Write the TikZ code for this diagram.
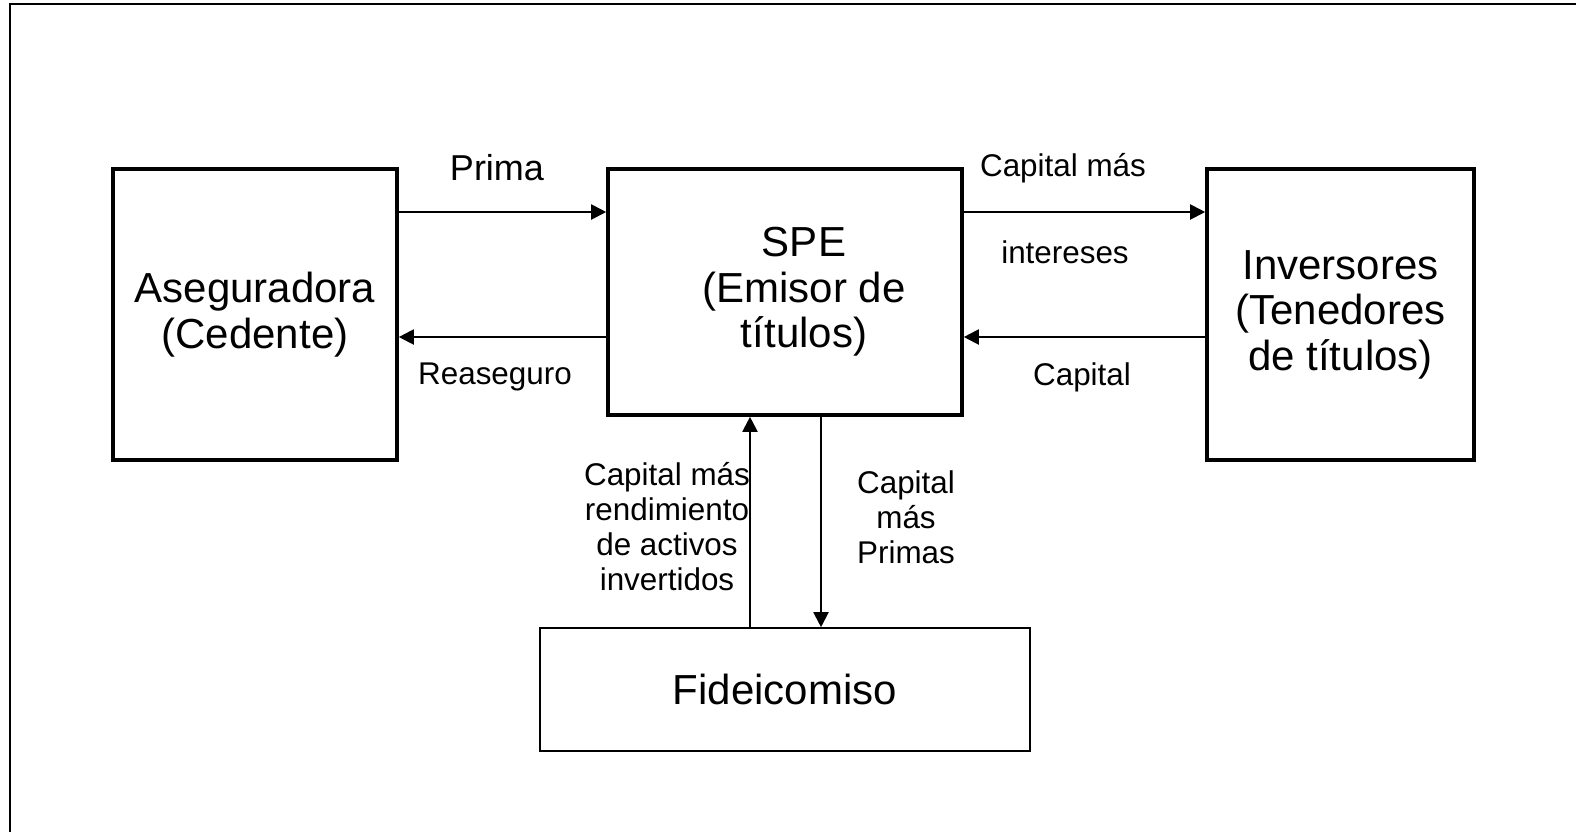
\documentclass[tikz,border=0pt]{standalone}
\usepackage{fontspec}
\setmainfont{Liberation Sans}
\usepackage{tikz}
\usetikzlibrary{arrows.meta}
\usetikzlibrary{positioning}
\usetikzlibrary{calc}

\begin{document}
\begin{tikzpicture}[x=0.5pt,y=-0.5pt,
  party/.style={draw,line width=1.8pt,inner sep=0pt,align=center,font=\fontsize{21}{22.7}\selectfont},
  trust/.style={draw,line width=0.8pt,inner sep=0pt,align=center,font=\fontsize{21}{22.7}\selectfont},
  flow/.style={line width=1pt,-{Triangle[length=7.5pt,width=7.5pt]}},
  lbl/.style={align=center,inner sep=0pt,font=\fontsize{15.7}{17.5}\selectfont}]
\useasboundingbox (0,0) rectangle (1576,832);
% frame
\draw[line width=1.3pt] (10,832) -- (10,4) -- (1576,4);
% boxes
\node[party,minimum width=142pt,minimum height=145.5pt] (aseg) at (255,314.5) {Aseguradora\\(Cedente)};
\node[party,minimum width=177pt,minimum height=123pt,
  label={[align=center,font=\fontsize{21}{22.7}\selectfont,xshift=9.5pt]center:SPE\\(Emisor de\\títulos)}] (spe) at (785,292) {};
\node[party,minimum width=133.5pt,minimum height=145.5pt] (inv) at (1340.5,314.5) {Inversores\\(Tenedores\\de títulos)};
\node[trust,minimum width=245pt,minimum height=61.5pt] (fid) at (785,689.5) {Fideicomiso};
% rows and columns of the flows
\coordinate (upper) at (0,212);
\coordinate (lower) at (0,337);
\coordinate (upcol) at (750,0);
\coordinate (downcol) at (821,0);
\draw[flow] (aseg.east |- upper) -- (spe.west |- upper);
\draw[flow] (spe.west |- lower) -- (aseg.east |- lower);
\draw[flow] (spe.east |- upper) -- (inv.west |- upper);
\draw[flow] (inv.west |- lower) -- (spe.east |- lower);
\draw[flow] (fid.north -| upcol) -- (spe.south -| upcol);
\draw[flow] (spe.south -| downcol) -- (fid.north -| downcol);
% labels
\node[lbl,font=\fontsize{18}{20}\selectfont] (prima) at (497,168) {Prima};
\node[lbl] (reas) at (495,377) {Reaseguro};
\node[lbl] (capmas) at (1063,168) {Capital más};
\node[lbl] (inter) at (1065,252) {intereses};
\node[lbl] (cap) at (1082,377) {Capital};
\node[lbl] (rend) at (667,527) {Capital más\\rendimiento\\de activos\\invertidos};
\node[lbl] (prim) at (906,517) {Capital\\más\\Primas};
\end{tikzpicture}
\end{document}
